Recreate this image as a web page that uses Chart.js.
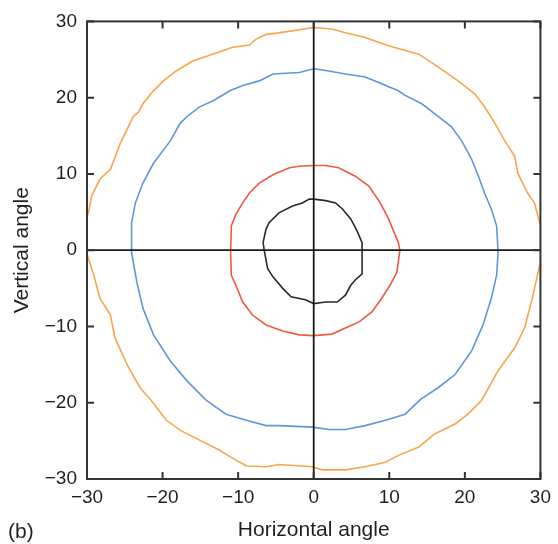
<!DOCTYPE html>
<html>
<head>
<meta charset="utf-8">
<title>Vertical vs horizontal angle</title>
<script src="https://cdn.jsdelivr.net/npm/chart.js@4.4.1/dist/chart.umd.min.js"></script>
<style>
    html, body { margin: 0; padding: 0; background: #fff; }
    #wrap { position: relative; width: 558px; height: 544px; }
</style>
</head>
<body>
<div id="wrap"><canvas id="chart" width="558" height="544"></canvas></div>
<script>
// Contours, as [horizontal, vertical] pairs (degrees)
const tickValues = [-30, -20, -10, 0, 10, 20, 30];

const orangePts = [
    [0, 29.2], [2.4, 29], [4.2, 28.5], [6.8, 27.9], [9.9, 26.8], [13.9, 25.7], [16.5, 24],
    [19.1, 22.2], [21.3, 20.5], [22.6, 18.8], [24, 16.6], [25.3, 14.3], [26.6, 12.3], [27, 10.1],
    [28.3, 7.5], [29.2, 6.2], [29.9, 3.6], [30.6, 2.5], [30.6, -0.5], [29.9, -2], [29.6, -3.3],
    [28.8, -6.8], [27.9, -10.2], [26.6, -12.8], [24.4, -15.8], [22.2, -19.7], [20.4, -21.5],
    [18.7, -22.8], [16, -24.1], [13.9, -25.8], [11.2, -26.9], [9.5, -27.8], [6.8, -28.4],
    [4.2, -28.8], [1.1, -28.8], [-0.2, -28.4], [-4.6, -28.1], [-6.3, -28.4], [-8.9, -28.3],
    [-10.7, -27.3], [-12.5, -26.2], [-15.1, -24.9], [-17.7, -23.6], [-19.5, -22.3], [-21.5, -19.7],
    [-23, -18], [-24.7, -15], [-26.3, -11.5], [-26.9, -8.5], [-28.3, -6.3], [-29.1, -3.3],
    [-30, -0.5], [-30.6, 1], [-30.6, 3.5], [-29.8, 4.9], [-29.4, 7.1], [-28.3, 9.3], [-26.9, 10.6],
    [-25.6, 14], [-24.7, 15.8], [-23.9, 17.5], [-23.2, 18.1], [-22.6, 19.2], [-21.3, 20.8],
    [-19.9, 22.2], [-18.2, 23.5], [-16, 24.8], [-13.4, 25.7], [-10.7, 26.6], [-8.5, 26.9],
    [-7.6, 27.7], [-6.3, 28.3], [-4.6, 28.5], [0, 29.2]
];

const bluePts = [
    [0, 23.8], [2, 23.5], [4.2, 23.1], [6.8, 22.7], [8.6, 22], [11.2, 20.9], [12.1, 20.3],
    [14.3, 19.2], [16.5, 17.5], [18.2, 16.2], [19.6, 14.3], [20.9, 11.9], [21.8, 9.7], [22.6, 7.5],
    [23.5, 5.4], [24.2, 3.2], [24.4, -0.3], [24.2, -3.3], [23.5, -6.3], [22.4, -9.8], [20.9, -13.2],
    [18.7, -16.3], [16.5, -18], [14.1, -19.6], [12.1, -21.5], [9.5, -22.3], [6.8, -23], [4.2, -23.5],
    [2, -23.5], [-0.2, -23.2], [-4.6, -23], [-6.3, -23], [-8.9, -22.3], [-11.6, -21.5],
    [-14.2, -19.7], [-15.1, -18.8], [-16.8, -17.1], [-19, -14.5], [-21.2, -11.1], [-22.6, -7.6],
    [-23.4, -4.2], [-24.1, -0.3], [-24.1, 3.6], [-23.6, 6.2], [-22.6, 8.8], [-21.2, 11.4],
    [-19, 14.3], [-17.7, 16.6], [-16.8, 17.5], [-15.1, 18.8], [-13.3, 19.6], [-11.1, 20.9],
    [-9.4, 21.6], [-7.2, 22.2], [-5.4, 23.1], [-1.9, 23.3], [0, 23.8]
];

const redPts = [
    [0, 11.1], [1.6, 11.1], [3.3, 10.8], [5.5, 9.7], [7.3, 8.4], [8.8, 6.2], [9.9, 4.1],
    [11.2, 1], [11.4, 0], [11, -2.9], [10.1, -4.6], [9, -6.3], [7.7, -8.1], [6, -9.4],
    [4.2, -10.2], [2.4, -11], [0, -11.2], [-1.9, -11.1], [-4.1, -10.6], [-6.3, -9.8],
    [-8.1, -8.5], [-9.4, -6.8], [-10.3, -4.6], [-10.9, -3.3], [-11, -0.3], [-10.9, 3.2],
    [-10.3, 4.7], [-9.4, 6.2], [-8.5, 7.5], [-7.2, 8.8], [-5.4, 9.9], [-3.2, 10.8],
    [-1.9, 11], [0, 11.1]
];

const blackPts = [
    [0, 6.7], [1.6, 6.5], [2.9, 6.2], [3.8, 5.4], [4.9, 4.1], [5.7, 2.6], [6.4, 1],
    [6.4, -0.3], [6.4, -3.1], [5.5, -3.9], [4.9, -4.6], [4.2, -5.9], [3.1, -6.8], [1.6, -6.8],
    [0, -7], [-1.1, -6.5], [-3, -6.1], [-4.1, -5], [-5.4, -3.5], [-6.1, -2.4], [-6.5, -0.3],
    [-6.7, 1], [-6.3, 2.8], [-5.9, 3.6], [-4.6, 4.9], [-2.8, 5.8], [-1.5, 6.2], [-0.6, 6.7],
    [0, 6.7]
];

const FONT = "'Liberation Sans', Arial, sans-serif";
const INK = '#231f20';

function toXY(pts) {
    return pts.map(p => ({ x: p[0], y: p[1] }));
}

function contour(pts, color) {
    return {
        data: toXY(pts),
        showLine: true,
        borderColor: color,
        borderWidth: 1.6,
        pointRadius: 0,
        tension: 0,
        clip: 0
    };
}

function fmtTick(v) {
    return v < 0 ? '\u2212' + Math.abs(v) : String(v);
}

// Frame, inward tick marks and the zero cross-hair
const framePlugin = {
    id: 'frame',
    afterDatasetsDraw(chart) {
        const { ctx, chartArea: a, scales } = chart;
        const x0 = scales.x.getPixelForValue(0);
        const y0 = scales.y.getPixelForValue(0);
        ctx.save();
        ctx.strokeStyle = '#1a1a1a';
        ctx.lineWidth = 1.8;
        ctx.beginPath();
        ctx.moveTo(x0, a.top); ctx.lineTo(x0, a.bottom);
        ctx.moveTo(a.left, y0); ctx.lineTo(a.right, y0);
        ctx.stroke();

        ctx.strokeStyle = '#333';
        ctx.lineWidth = 2;
        ctx.strokeRect(a.left, a.top, a.right - a.left, a.bottom - a.top);

        const len = 7;
        ctx.beginPath();
        tickValues.forEach(v => {
            const px = scales.x.getPixelForValue(v);
            ctx.moveTo(px, a.bottom); ctx.lineTo(px, a.bottom - len);
            ctx.moveTo(px, a.top); ctx.lineTo(px, a.top + len);
            const py = scales.y.getPixelForValue(v);
            ctx.moveTo(a.left, py); ctx.lineTo(a.left + len, py);
            ctx.moveTo(a.right, py); ctx.lineTo(a.right - len, py);
        });
        ctx.stroke();

        // panel label
        ctx.fillStyle = INK;
        ctx.font = '21px ' + FONT;
        ctx.textBaseline = 'alphabetic';
        ctx.textAlign = 'left';
        ctx.fillText('(b)', 8, 538);
        ctx.restore();
    }
};

const chart = new Chart(document.getElementById('chart'), {
    type: 'scatter',
    data: {
        datasets: [
            contour(orangePts, '#f8a54c'),
            contour(bluePts, '#5f97dc'),
            contour(redPts, '#f1593b'),
            contour(blackPts, '#2a2a2a')
        ]
    },
    options: {
        responsive: false,
        maintainAspectRatio: false,
        animation: false,
        layout: { padding: { left: 0, top: 17, right: 15, bottom: 0 } },
        plugins: { legend: { display: false }, tooltip: { enabled: false } },
        scales: {
            x: {
                type: 'linear',
                min: -30,
                max: 30,
                afterBuildTicks: s => { s.ticks = tickValues.map(v => ({ value: v })); },
                afterFit: s => { s.height = 65; },
                grid: { display: false, drawTicks: false },
                border: { display: false },
                ticks: {
                    padding: 7,
                    color: INK,
                    font: { family: FONT, size: 19 },
                    maxRotation: 0,
                    callback: fmtTick
                },
                title: {
                    display: true,
                    text: 'Horizontal angle',
                    color: INK,
                    font: { family: FONT, size: 21 },
                    padding: { top: 0, bottom: 1 }
                }
            },
            y: {
                type: 'linear',
                min: -30,
                max: 30,
                afterBuildTicks: s => { s.ticks = tickValues.map(v => ({ value: v })); },
                afterFit: s => { s.width = 87; },
                grid: { display: false, drawTicks: false },
                border: { display: false },
                ticks: {
                    padding: 10,
                    color: INK,
                    font: { family: FONT, size: 19 },
                    callback: fmtTick
                },
                title: {
                    display: true,
                    text: 'Vertical angle',
                    color: INK,
                    font: { family: FONT, size: 21 },
                    padding: { top: 10, bottom: 0 }
                }
            }
        }
    },
    plugins: [framePlugin]
});
</script>
</body>
</html>
